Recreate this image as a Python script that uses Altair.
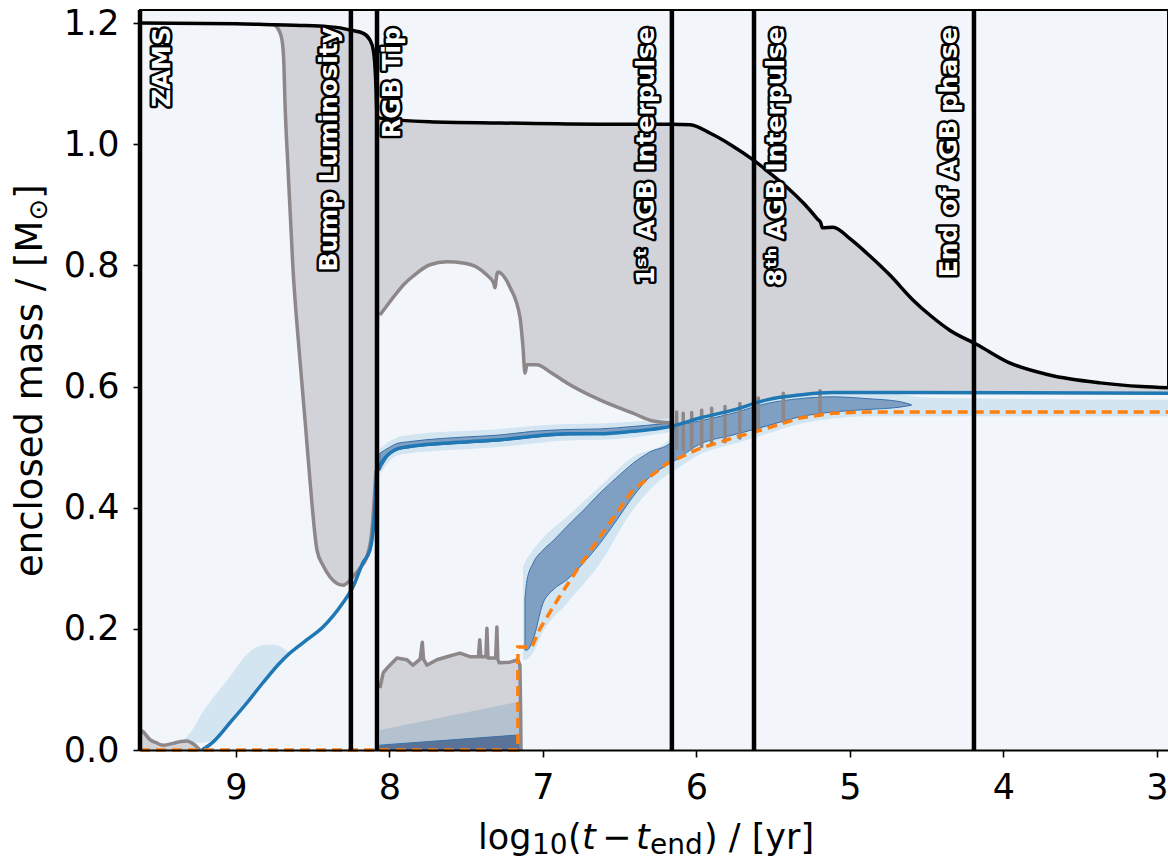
import altair as alt
import pandas as pd

# ---------------- data ----------------
tick_x = [3, 4, 5, 6, 7, 8, 9]
tick_y = [0.0, 0.2, 0.4, 0.6, 0.8, 1.0, 1.2]

# total stellar mass (black)
total_x = [9.625, 9.00, 8.75, 8.58, 8.40, 8.32, 8.25, 8.17, 8.127, 8.105, 8.094, 8.087, 8.081,
           8.07, 8.06, 7.74, 7.28, 6.63, 6.16, 6.04, 5.91, 5.77, 5.63, 5.52, 5.41, 5.30, 5.21,
           5.19, 5.18, 5.11, 5.00, 4.89, 4.74, 4.59, 4.47, 4.35, 4.17, 3.96, 3.70, 3.37, 3.10, 2.928]
total_y = [1.200, 1.199, 1.197, 1.196, 1.194, 1.192, 1.188, 1.183, 1.172, 1.155, 1.127, 1.090, 1.047,
           1.044, 1.043, 1.037, 1.035, 1.033, 1.033, 1.032, 1.018, 0.998, 0.974, 0.952, 0.929, 0.902, 0.876,
           0.870, 0.862, 0.863, 0.844, 0.820, 0.784, 0.743, 0.716, 0.693, 0.669, 0.639, 0.619, 0.606, 0.600, 0.598]

# base of the convective envelope (grey), RGB part
envA_x = [8.750, 8.720, 8.700, 8.688, 8.681, 8.661, 8.629, 8.583, 8.550, 8.518, 8.472, 8.433, 8.388,
          8.303, 8.238, 8.192, 8.147, 8.114, 8.088]
envA_y = [1.197, 1.188, 1.172, 1.135, 1.073, 0.962, 0.797, 0.644, 0.545, 0.446, 0.330, 0.305, 0.286,
          0.272, 0.286, 0.300, 0.319, 0.363, 0.462]
# base of the convective envelope, core-He-burning part
envB_x = [8.062, 7.997, 7.951, 7.900, 7.847, 7.736, 7.625, 7.521, 7.430, 7.365, 7.320, 7.313, 7.300,
          7.293, 7.215, 7.150, 7.130, 7.117, 7.104, 7.039, 6.954, 6.844, 6.629, 6.414, 6.283, 6.173]
envB_y = [0.718, 0.740, 0.755, 0.770, 0.782, 0.801, 0.806, 0.804, 0.797, 0.784, 0.770, 0.763, 0.785,
          0.789, 0.764, 0.715, 0.665, 0.622, 0.636, 0.636, 0.624, 0.606, 0.578, 0.556, 0.543, 0.540]

# convective core during core He burning
core_x = [8.062, 8.040, 7.997, 7.951, 7.886, 7.847, 7.800, 7.786, 7.778, 7.756, 7.691, 7.625, 7.541,
          7.476, 7.420, 7.412, 7.404, 7.391, 7.372, 7.365, 7.358, 7.345, 7.308, 7.300, 7.294, 7.285,
          7.215, 7.163, 7.150, 7.145, 7.143]
core_y = [0.102, 0.128, 0.140, 0.152, 0.149, 0.140, 0.150, 0.178, 0.150, 0.140, 0.149, 0.154, 0.160,
          0.154, 0.154, 0.182, 0.154, 0.154, 0.154, 0.201, 0.152, 0.152, 0.152, 0.203, 0.150, 0.144,
          0.145, 0.149, 0.140, 0.060, 0.000]

# small convective core near the ZAMS
zams_x = [9.625, 9.604, 9.560, 9.520, 9.474, 9.408, 9.360, 9.321, 9.267, 9.235]
zams_y = [0.034, 0.030, 0.017, 0.012, 0.008, 0.011, 0.014, 0.015, 0.008, 0.000]

# hydrogen-free core (blue)
hcore_x = [9.221, 9.150, 9.039, 8.928, 8.824, 8.713, 8.648, 8.537, 8.433, 8.303, 8.238, 8.173, 8.127,
           8.105, 8.092, 8.082, 8.075, 8.062, 8.030, 7.997, 7.950, 7.870, 7.670, 7.480, 7.280, 7.065,
           6.844, 6.629, 6.414, 6.238, 6.153, 5.977, 5.762, 5.541, 5.326, 5.111, 4.674, 2.928]
hcore_y = [0.000, 0.013, 0.045, 0.078, 0.111, 0.144, 0.160, 0.182, 0.203, 0.243, 0.269, 0.309, 0.330,
           0.365, 0.410, 0.455, 0.462, 0.470, 0.482, 0.490, 0.497, 0.501, 0.506, 0.509, 0.512, 0.518,
           0.522, 0.522, 0.526, 0.531, 0.535, 0.548, 0.561, 0.578, 0.586, 0.590, 0.590, 0.589]

# helium-free core (orange dashed)
hecore_x = [9.625, 7.163, 7.163, 7.072, 7.020, 6.900, 6.779, 6.629, 6.414, 6.192, 5.977, 5.762, 5.541,
            5.326, 5.111, 4.889, 2.928]
hecore_y = [0.000, 0.000, 0.170, 0.170, 0.200, 0.250, 0.297, 0.352, 0.429, 0.473, 0.498, 0.515, 0.531,
            0.548, 0.556, 0.558, 0.558]

# thermal-pulse convective zones (grey spikes)
pulse_x = [6.129, 6.086, 6.031, 5.966, 5.901, 5.814, 5.717, 5.597, 5.434, 5.195]
pulse_top = [0.558, 0.556, 0.557, 0.561, 0.564, 0.567, 0.572, 0.581, 0.589, 0.593]
pulse_bot = [0.498, 0.495, 0.498, 0.501, 0.506, 0.509, 0.515, 0.531, 0.542, 0.553]

# main-sequence burning zone (light)
blob_x = [9.360, 9.300, 9.250, 9.221, 9.150, 9.039, 8.928, 8.870, 8.824, 8.760, 8.713, 8.648]
blob_lo = [0.012, 0.012, 0.012, 0.012, 0.016, 0.045, 0.078, 0.095, 0.111, 0.128, 0.144, 0.160]
blob_hi = [0.012, 0.028, 0.048, 0.061, 0.086, 0.121, 0.158, 0.169, 0.173, 0.174, 0.171, 0.160]

# H-burning shell during core He burning
hsh_x = [8.062, 7.997, 7.950, 7.870, 7.670, 7.480, 7.280, 7.065, 6.844, 6.629, 6.414, 6.238, 6.173]
hsh_lo = [0.462, 0.488, 0.495, 0.499, 0.504, 0.507, 0.510, 0.516, 0.520, 0.521, 0.525, 0.530, 0.533]
hsh_hi = [0.490, 0.500, 0.506, 0.509, 0.514, 0.517, 0.520, 0.526, 0.529, 0.530, 0.534, 0.538, 0.540]
hsh_halo_lo = [0.455, 0.478, 0.486, 0.490, 0.494, 0.497, 0.500, 0.506, 0.511, 0.512, 0.516, 0.522, 0.525]
hsh_halo_hi = [0.498, 0.510, 0.516, 0.520, 0.525, 0.527, 0.530, 0.535, 0.538, 0.539, 0.542, 0.546, 0.548]

# He-burning shell / intershell (dark)
hes_x = [7.117, 7.104, 7.065, 7.000, 6.935, 6.844, 6.739, 6.629, 6.518, 6.414, 6.303, 6.173, 6.140,
         5.977, 5.762, 5.541, 5.326, 5.111, 4.889, 4.674, 4.600]
hes_lo = [0.165, 0.165, 0.182, 0.242, 0.264, 0.281, 0.308, 0.341, 0.380, 0.418, 0.451, 0.473, 0.478,
          0.505, 0.520, 0.535, 0.550, 0.558, 0.562, 0.566, 0.569]
hes_hi = [0.250, 0.280, 0.308, 0.330, 0.345, 0.369, 0.395, 0.424, 0.450, 0.473, 0.492, 0.506, 0.533,
          0.543, 0.556, 0.572, 0.580, 0.583, 0.580, 0.575, 0.570]

# He-burning halo (light)
heh_x = [7.130, 7.117, 7.065, 7.000, 6.844, 6.629, 6.414, 6.192, 6.140, 5.977, 5.762, 5.541, 5.326,
         5.111, 4.889, 4.500, 4.000, 2.928]
heh_lo = [0.149, 0.149, 0.160, 0.195, 0.242, 0.308, 0.396, 0.454, 0.462, 0.488, 0.505, 0.522, 0.538,
          0.547, 0.551, 0.551, 0.551, 0.551]
heh_hi = [0.303, 0.310, 0.330, 0.350, 0.385, 0.435, 0.484, 0.509, 0.535, 0.548, 0.561, 0.578, 0.586,
          0.590, 0.593, 0.582, 0.580, 0.578]

# burning zones inside the convective core
cb_x = [8.062, 7.150]
cb_mid = [0.033, 0.080]
cb_dark = [0.008, 0.025]

# evolutionary markers
event_x = [9.625, 8.251, 8.081, 6.160, 5.625, 4.192]
event_label = ["ZAMS", "Bump Luminosity", "RGB Tip", "1ˢᵗ AGB Interpulse",
               "8ᵗʰ AGB Interpulse", "End of AGB phase"]

# ---------------- styling / layout ----------------
BG = "#f2f6fb"
GREY_FILL = "#d2d3d8"
GREY_LINE = "#8d8789"
HALO = "#d4e5f2"
DARK = "#7f9fc3"
EDGE = "#3a70a8"
FONT = "DejaVu Sans"
label_dy = [30, -14, 23, -18, 30, -17]

xscale = alt.Scale(domain=[2.928, 9.625], reverse=True, nice=False, zero=False)
yscale = alt.Scale(domain=[0, 1.2215], nice=False, zero=False)
xaxis = alt.Axis(values=tick_x, format="d", title=None, grid=False, labelFont=FONT,
                 labelFontSize=35, labelColor="black", labelPadding=13, tickSize=7,
                 tickWidth=1.6, tickColor="black", domainColor="black", domainWidth=2, zindex=1)
yaxis = alt.Axis(values=tick_y, format=".1f", title=None, grid=False, labelFont=FONT,
                 labelFontSize=35, labelColor="black", labelPadding=14, tickSize=7,
                 tickWidth=1.6, tickColor="black", domainColor="black", domainWidth=2, zindex=1)
X = alt.X("x:Q", scale=xscale, axis=xaxis)
Y = alt.Y("y:Q", scale=yscale, axis=yaxis)
Y2 = alt.Y2("y2:Q")


def df_line(xs, ys):
    return pd.DataFrame({"x": xs, "y": ys, "i": list(range(len(xs)))})


def df_band(xs, lo, hi):
    return pd.DataFrame({"x": xs, "y": lo, "y2": hi})


layers = []

# grey envelope area below total mass
tot = df_line(total_x, total_y)
layers.append(alt.Chart(tot[tot.x <= 8.75]).mark_area(color=GREY_FILL, interpolate="monotone")
              .encode(x=X, y=Y))

# clear everything below the envelope base (where no envelope: base = total mass)
env_x = [v for v in total_x if v > 8.75] + envA_x + envB_x + [v for v in hcore_x if v <= 6.153]
env_y = ([total_y[k] for k, v in enumerate(total_x) if v > 8.75] + envA_y + envB_y
         + [hcore_y[k] for k, v in enumerate(hcore_x) if v <= 6.153])
layers.append(alt.Chart(df_line(env_x, env_y)).mark_area(color=BG, interpolate="monotone")
              .encode(x=X, y=Y))

# convective cores
layers.append(alt.Chart(df_line(zams_x, zams_y)).mark_area(color=GREY_FILL).encode(x=X, y=Y))
layers.append(alt.Chart(df_line(core_x, core_y)).mark_area(color=GREY_FILL).encode(x=X, y=Y))

# light burning halos
for bx, blo, bhi in [(blob_x, blob_lo, blob_hi), (hsh_x, hsh_halo_lo, hsh_halo_hi),
                     (heh_x, heh_lo, heh_hi)]:
    layers.append(alt.Chart(df_band(bx, blo, bhi)).mark_area(color=HALO, interpolate="monotone")
                  .encode(x=X, y=Y, y2=Y2))

# burning zones inside convective core
layers.append(alt.Chart(df_band(cb_x, [0, 0], cb_mid)).mark_area(color="#b4c2cf").encode(x=X, y=Y, y2=Y2))
layers.append(alt.Chart(df_band(cb_x, [0, 0], cb_dark)).mark_area(
    color="#5a7398", stroke=EDGE, strokeWidth=1).encode(x=X, y=Y, y2=Y2))

# dark burning zones
for bx, blo, bhi in [(hsh_x, hsh_lo, hsh_hi), (hes_x, hes_lo, hes_hi)]:
    layers.append(alt.Chart(df_band(bx, blo, bhi)).mark_area(
        color=DARK, stroke=EDGE, strokeWidth=1, interpolate="monotone").encode(x=X, y=Y, y2=Y2))

# grey boundary lines
for gx, gy, interp in [(envA_x, envA_y, "monotone"), (envB_x, envB_y, "monotone"),
                       (core_x, core_y, "linear"), (zams_x, zams_y, "monotone")]:
    layers.append(alt.Chart(df_line(gx, gy)).mark_line(
        color=GREY_LINE, strokeWidth=3.5, strokeJoin="round", interpolate=interp)
        .encode(x=X, y=Y, order="i:Q"))
layers.append(alt.Chart(pd.DataFrame({"x": pulse_x, "y": pulse_bot, "y2": pulse_top})).mark_rule(
    color=GREY_LINE, strokeWidth=3.5, strokeCap="round").encode(x=X, y=Y, y2=Y2))

# H-free core, He-free core, total mass
layers.append(alt.Chart(df_line(hcore_x, hcore_y)).mark_line(
    color="#1f77b4", strokeWidth=3.5, interpolate="monotone").encode(x=X, y=Y, order="i:Q"))
layers.append(alt.Chart(df_line(hecore_x, hecore_y)).mark_line(
    color="#ff7f0e", strokeWidth=3.5, strokeDash=[10, 6]).encode(x=X, y=Y, order="i:Q"))
layers.append(alt.Chart(tot).mark_line(color="black", strokeWidth=3.5, interpolate="monotone")
              .encode(x=X, y=Y, order="i:Q"))

# evolutionary markers
ev = pd.DataFrame({"x": event_x, "label": event_label})
layers.append(alt.Chart(ev).mark_rule(color="black", strokeWidth=4.5).encode(x=X))
for k in range(len(event_x)):
    one = ev.iloc[[k]]
    common = dict(font=FONT, fontWeight="bold", fontSize=25, angle=270, align="right",
                  baseline="alphabetic", dy=label_dy[k])
    layers.append(alt.Chart(one).mark_text(fill="black", stroke="black", strokeWidth=5,
                                           strokeJoin="round", **common)
                  .encode(x=X, y=alt.value(17), text="label:N"))
    layers.append(alt.Chart(one).mark_text(fill="white", **common)
                  .encode(x=X, y=alt.value(17), text="label:N"))

# axis titles (composed for sub-scripts)
dummy = pd.DataFrame({"d": [0]})


def txt(s, px, py, size, style="normal", angle=0):
    return alt.Chart(dummy).mark_text(text=s, font=FONT, fontSize=size, fontStyle=style,
                                      align="left", baseline="alphabetic", angle=angle,
                                      color="black").encode(x=alt.value(px), y=alt.value(py))


layers += [
    txt("log", 338, 839, 35),
    txt("10", 392, 844, 28),
    txt("(", 428, 839, 35),
    txt("t", 442, 839, 35, "italic"),
    txt("−", 462, 839, 35),
    txt("t", 496, 839, 35, "italic"),
    txt("end", 510, 844, 28),
    txt(") / [yr]", 564, 839, 35),
    txt("enclosed mass / [M", -98, 567, 37, angle=270),
    txt("⊙", -93, 210.6, 26, angle=270),
    txt("]", -98, 188.8, 37, angle=270),
]

chart = alt.layer(*layers).properties(
    width=1028, height=740,
    padding={"left": 140, "top": 10, "right": 0, "bottom": 111},
    autosize=alt.AutoSizeParams(type="none"),
    background="white",
).configure_view(fill=BG, stroke="black", strokeWidth=2)

chart.save("out.html", embed_options={"renderer": "svg", "actions": False})
